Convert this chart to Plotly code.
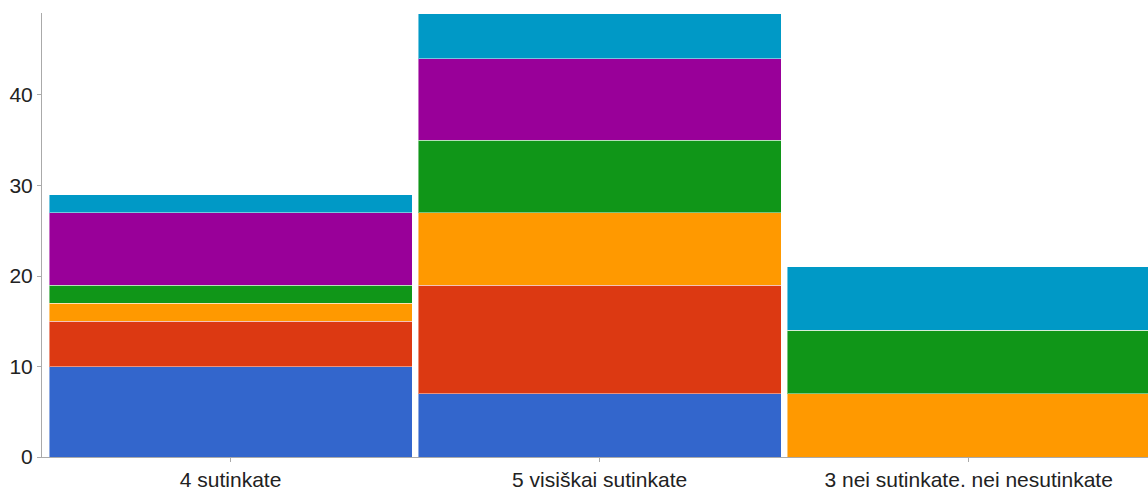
import plotly.graph_objects as go

categories = ["4 sutinkate", "5 visiškai sutinkate", "3 nei sutinkate, nei nesutinkate"]
series_names = ["1", "2", "3", "4", "5", "6"]
series_values = [
    [10, 7, 0],
    [5, 12, 0],
    [2, 8, 7],
    [2, 8, 7],
    [8, 9, 0],
    [2, 5, 7],
]
colors = ["#3366CC", "#DC3912", "#FF9900", "#109618", "#990099", "#0099C6"]
y_ticks = [0, 10, 20, 30, 40]

fig = go.Figure()
for name, vals, col in zip(series_names, series_values, colors):
    fig.add_trace(go.Bar(
        x=categories, y=vals, name=name,
        marker=dict(color=col, line=dict(color="rgba(255,255,255,0.45)", width=1)),
    ))

fig.update_layout(
    barmode="stack",
    bargap=0.016,
    width=1148, height=487,
    margin=dict(l=42, r=0, t=13, b=30),
    paper_bgcolor="white", plot_bgcolor="white",
    showlegend=False,
    font=dict(family="Liberation Sans, Arial, sans-serif", size=21, color="#222222"),
    xaxis=dict(
        range=[-0.511, 2.486],
        automargin=False,
        showline=True, linecolor="#aaaaaa", linewidth=1,
        ticks="outside", ticklen=4, tickcolor="#aaaaaa",
        showgrid=False, zeroline=False,
        tickfont=dict(size=21),
    ),
    yaxis=dict(
        range=[0, 49.06],
        automargin=False,
        tickvals=y_ticks,
        showline=True, linecolor="#aaaaaa", linewidth=1,
        ticks="outside", ticklen=4, tickcolor="#aaaaaa",
        showgrid=False, zeroline=False,
        tickfont=dict(size=21),
    ),
)

fig.write_html(
    "out.html",
    config={"displayModeBar": False},
    post_script="document.body.style.margin='0';document.body.style.overflow='hidden';",
)
